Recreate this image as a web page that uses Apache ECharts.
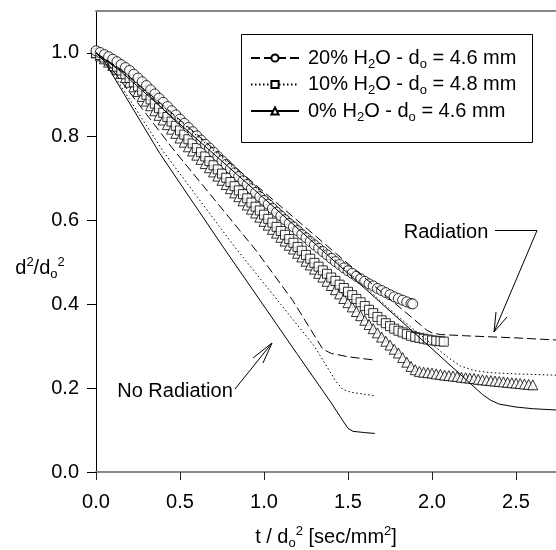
<!DOCTYPE html>
<html><head><meta charset="utf-8">
<script src="https://cdn.jsdelivr.net/npm/echarts@6/dist/echarts.min.js"></script>
<style>html,body{margin:0;padding:0;background:#fff}#c{width:556px;height:550px}</style>
</head><body><div id="c"></div>
<script>
// ---- data (t / do^2 [sec/mm^2], d^2/do^2) ----
const xTicks = [0, 0.5, 1.0, 1.5, 2.0, 2.5];
const yTicks = [0, 0.2, 0.4, 0.6, 0.8, 1.0];
const seriesNames = ['20% H2O - do = 4.6 mm', '10% H2O - do = 4.8 mm', '0% H2O - do = 4.6 mm'];
const legendLabels = ['20% H{sub|2}O - d{sub|o} = 4.6 mm', '10% H{sub|2}O - d{sub|o} = 4.8 mm', '0% H{sub|2}O - d{sub|o} = 4.6 mm'];

// experimental points: 20% H2O (circles)
const circ20 = [[0,1.005],[0.025,1.001],[0.05,0.996],[0.075,0.991],[0.1,0.985],[0.125,0.979],[0.15,0.972],[0.175,0.965],[0.2,0.958],[0.225,0.949],[0.25,0.940],[0.275,0.931],[0.3,0.922],[0.325,0.912],[0.35,0.902],[0.375,0.892],[0.4,0.882],[0.425,0.872],[0.45,0.862],[0.475,0.852],[0.5,0.842],[0.525,0.832],[0.55,0.822],[0.575,0.812],[0.6,0.802],[0.625,0.792],[0.65,0.782],[0.675,0.773],[0.7,0.763],[0.725,0.753],[0.75,0.743],[0.775,0.734],[0.8,0.724],[0.825,0.714],[0.85,0.705],[0.875,0.695],[0.9,0.686],[0.925,0.676],[0.95,0.667],[0.975,0.657],[1.0,0.648],[1.025,0.639],[1.05,0.629],[1.075,0.620],[1.1,0.611],[1.125,0.602],[1.15,0.593],[1.175,0.585],[1.2,0.576],[1.225,0.567],[1.25,0.559],[1.275,0.550],[1.3,0.542],[1.325,0.534],[1.35,0.526],[1.375,0.518],[1.4,0.510],[1.425,0.502],[1.45,0.495],[1.475,0.487],[1.5,0.480],[1.525,0.474],[1.55,0.467],[1.575,0.461],[1.6,0.455],[1.625,0.449],[1.65,0.444],[1.675,0.438],[1.7,0.433],[1.725,0.428],[1.75,0.423],[1.775,0.418],[1.8,0.414],[1.825,0.410],[1.85,0.406],[1.875,0.402],[1.885,0.401]];
// 10% H2O (squares)
const sq10 = [[0,1.000],[0.025,0.995],[0.05,0.989],[0.075,0.982],[0.1,0.975],[0.125,0.967],[0.15,0.958],[0.175,0.949],[0.2,0.940],[0.225,0.930],[0.25,0.920],[0.275,0.910],[0.3,0.900],[0.325,0.889],[0.35,0.879],[0.375,0.868],[0.4,0.857],[0.425,0.847],[0.45,0.836],[0.475,0.826],[0.5,0.815],[0.525,0.805],[0.55,0.794],[0.575,0.784],[0.6,0.773],[0.625,0.763],[0.65,0.753],[0.675,0.742],[0.7,0.732],[0.725,0.722],[0.75,0.712],[0.775,0.702],[0.8,0.692],[0.825,0.682],[0.85,0.672],[0.875,0.663],[0.9,0.653],[0.925,0.643],[0.95,0.633],[0.975,0.624],[1.0,0.614],[1.025,0.604],[1.05,0.595],[1.075,0.585],[1.1,0.575],[1.125,0.566],[1.15,0.556],[1.175,0.547],[1.2,0.537],[1.225,0.528],[1.25,0.518],[1.275,0.509],[1.3,0.499],[1.325,0.490],[1.35,0.481],[1.375,0.473],[1.4,0.464],[1.425,0.456],[1.45,0.447],[1.475,0.439],[1.5,0.430],[1.525,0.422],[1.55,0.413],[1.575,0.405],[1.6,0.396],[1.625,0.387],[1.65,0.379],[1.675,0.370],[1.7,0.362],[1.725,0.355],[1.75,0.348],[1.775,0.342],[1.8,0.337],[1.825,0.333],[1.85,0.329],[1.875,0.325],[1.9,0.322],[1.925,0.320],[1.95,0.318],[1.975,0.316],[2.0,0.314],[2.025,0.313],[2.05,0.312],[2.07,0.311]];
// 0% H2O (triangles)
const tri0 = [[0,1.000],[0.025,0.993],[0.05,0.986],[0.075,0.978],[0.1,0.970],[0.125,0.961],[0.15,0.951],[0.175,0.941],[0.2,0.930],[0.225,0.919],[0.25,0.908],[0.275,0.896],[0.3,0.885],[0.325,0.874],[0.35,0.862],[0.375,0.851],[0.4,0.840],[0.425,0.829],[0.45,0.818],[0.475,0.808],[0.5,0.797],[0.525,0.787],[0.55,0.776],[0.575,0.766],[0.6,0.756],[0.625,0.746],[0.65,0.736],[0.675,0.726],[0.7,0.716],[0.725,0.706],[0.75,0.696],[0.775,0.686],[0.8,0.676],[0.825,0.666],[0.85,0.657],[0.875,0.647],[0.9,0.637],[0.925,0.627],[0.95,0.618],[0.975,0.608],[1.0,0.598],[1.025,0.589],[1.05,0.579],[1.075,0.570],[1.1,0.560],[1.125,0.551],[1.15,0.541],[1.175,0.532],[1.2,0.522],[1.225,0.513],[1.25,0.503],[1.275,0.494],[1.3,0.484],[1.325,0.474],[1.35,0.465],[1.375,0.455],[1.4,0.445],[1.425,0.435],[1.45,0.425],[1.475,0.414],[1.5,0.404],[1.525,0.394],[1.55,0.383],[1.575,0.373],[1.6,0.362],[1.625,0.352],[1.65,0.342],[1.675,0.332],[1.7,0.322],[1.725,0.312],[1.75,0.303],[1.775,0.293],[1.8,0.284],[1.825,0.273],[1.85,0.262],[1.875,0.252],[1.9,0.244],[1.925,0.240],[1.95,0.238],[1.975,0.237],[2.0,0.236],[2.025,0.234],[2.05,0.233],[2.075,0.231],[2.1,0.230],[2.125,0.229],[2.15,0.228],[2.175,0.226],[2.2,0.225],[2.225,0.224],[2.25,0.223],[2.275,0.221],[2.3,0.220],[2.325,0.219],[2.35,0.218],[2.375,0.217],[2.4,0.216],[2.425,0.215],[2.45,0.214],[2.475,0.213],[2.5,0.212],[2.525,0.211],[2.55,0.210],[2.575,0.209],[2.6,0.208]];

// model curves with radiation
const rad20 = [[0,1.0],[0.15,0.96],[0.5,0.84],[1.0,0.668],[1.5,0.497],[1.97,0.338],[2.0,0.332],[2.05,0.328],[2.2,0.325],[2.5,0.32],[2.738,0.315]];
const rad10 = [[0,1.0],[0.15,0.958],[0.5,0.838],[1.0,0.662],[1.5,0.478],[1.8,0.37],[2.1,0.272],[2.17,0.253],[2.25,0.242],[2.35,0.237],[2.5,0.234],[2.738,0.231]];
const rad0  = [[0,1.0],[0.15,0.955],[0.5,0.83],[1.0,0.653],[1.5,0.474],[2.0,0.294],[2.3,0.185],[2.35,0.171],[2.4,0.162],[2.5,0.155],[2.6,0.151],[2.738,0.148]];
// model curves without radiation
const noRad20 = [[0,1.0],[0.05,0.985],[0.45,0.775],[0.95,0.53],[1.17,0.41],[1.35,0.293],[1.4,0.283],[1.5,0.275],[1.66,0.267]];
const noRad10 = [[0,1.0],[0.05,0.982],[0.4,0.765],[0.82,0.54],[1.1,0.4],[1.3,0.3],[1.43,0.215],[1.47,0.197],[1.52,0.19],[1.66,0.182]];
const noRad0  = [[0,1.0],[0.05,0.98],[0.38,0.76],[0.76,0.535],[1.2,0.28],[1.4,0.165],[1.47,0.122],[1.5,0.104],[1.53,0.097],[1.6,0.094],[1.66,0.092]];

// ---- chart ----
const FONT = "'Liberation Sans', Arial, sans-serif";
const rich = {
  sub: {fontSize: 13, fontFamily: FONT, color: '#000', padding: [12, 0, 0, 0]},
  sup: {fontSize: 13, fontFamily: FONT, color: '#000', padding: [0, 0, 12, 0]}
};
const DASH = [9, 4], DOT = [1.5, 2.5];
const styles = [
  {symbol: 'circle', size: 10, type: DASH},
  {symbol: 'rect', size: 9, type: DOT},
  {symbol: 'triangle', size: 10, type: 'solid'}
];
const points = [circ20, sq10, tri0];
const radLines = [rad20, rad10, rad0];
const noRadLines = [noRad20, noRad10, noRad0];

const series = [];
seriesNames.forEach((n, i) => series.push({
  name: n, type: 'line', data: [], symbol: styles[i].symbol, symbolSize: 8,
  itemStyle: {color: '#fff', borderColor: '#000', borderWidth: 1},
  lineStyle: {color: '#000', width: 1, type: styles[i].type}
}));
[2, 1, 0].forEach(i => series.push({
  name: seriesNames[i] + ' data', type: 'scatter', data: points[i],
  symbol: styles[i].symbol, symbolSize: styles[i].size, z: 2 + (2 - i) * 0.1,
  itemStyle: {color: '#fff', borderColor: '#000', borderWidth: 1}
}));
for (let i = 0; i < 3; i++) {
  [radLines[i], noRadLines[i]].forEach((d, k) => series.push({
    name: seriesNames[i] + (k ? ' noRad' : ' rad'), type: 'line', data: d,
    symbol: 'none', z: 4, silent: true,
    lineStyle: {color: '#000', width: 1, type: styles[i].type}
  }));
}

const chart = echarts.init(document.getElementById('c'));
chart.setOption({
  animation: false,
  backgroundColor: '#fff',
  grid: {left: 96, right: 0, top: 11, bottom: 78, containLabel: false, outerBoundsMode: 'none'},
  legend: {
    data: seriesNames, orient: 'vertical', left: 250, top: 48, padding: 0,
    itemWidth: 48, itemHeight: 9, itemGap: 4, selectedMode: false,
    formatter: n => legendLabels[seriesNames.indexOf(n)],
    textStyle: {fontSize: 20, fontFamily: FONT, color: '#000', padding: [0, 0, 0, 4], rich: rich}
  },
  xAxis: [{
    type: 'value', min: 0, max: 2.738, interval: 0.5,
    name: 't / d{sub|o}{sup|2} [sec/mm{sup|2}]', nameLocation: 'middle', nameGap: 53,
    nameTextStyle: {fontSize: 20, fontFamily: FONT, color: '#000', rich: rich},
    axisLine: {onZero: false, lineStyle: {color: '#888', width: 2}},
    axisTick: {length: 8, lineStyle: {color: '#222'}, customValues: xTicks},
    axisLabel: {fontSize: 20, fontFamily: FONT, color: '#000', margin: 20,
      customValues: xTicks, formatter: v => v.toFixed(1)},
    splitLine: {show: false}
  }, {
    type: 'value', position: 'top', min: 0, max: 2.738,
    axisLine: {show: true, onZero: false, lineStyle: {color: '#888', width: 2}},
    axisTick: {show: false}, axisLabel: {show: false}, splitLine: {show: false}
  }],
  yAxis: {
    type: 'value', min: 0, max: 1.1, interval: 0.2,
    axisLine: {show: true, onZero: false, lineStyle: {color: '#000', width: 1}},
    axisTick: {length: 9, lineStyle: {color: '#000'}, customValues: yTicks},
    axisLabel: {fontSize: 20, fontFamily: FONT, color: '#000', margin: 17,
      customValues: yTicks, formatter: v => v.toFixed(1)},
    splitLine: {show: false}
  },
  graphic: [
    {type: 'text', style: {x: 40, y: 268, text: 'd{sup|2}/d{sub|o}{sup|2}', fontSize: 20, fontFamily: FONT, fill: '#000', align: 'center', verticalAlign: 'middle', rich: rich}, z: 10},
    {type: 'rect', shape: {x: 241.5, y: 34.5, width: 291, height: 108}, style: {fill: null, stroke: '#000', lineWidth: 1}, z: 10},
    {type: 'text', style: {x: 446, y: 232, text: 'Radiation', fontSize: 20, fontFamily: FONT, fill: '#000', align: 'center', verticalAlign: 'middle'}, z: 10},
    {type: 'polyline', shape: {points: [[495, 230.5], [537, 230.5], [494, 332]]}, style: {stroke: '#000', lineWidth: 1, fill: null}, z: 10},
    {type: 'polyline', shape: {points: [[507, 317], [494, 332], [496, 312]]}, style: {stroke: '#000', lineWidth: 1, fill: null}, z: 10},
    {type: 'text', style: {x: 175, y: 391, text: 'No Radiation', fontSize: 20, fontFamily: FONT, fill: '#000', align: 'center', verticalAlign: 'middle'}, z: 10},
    {type: 'polyline', shape: {points: [[235, 389], [272, 343]]}, style: {stroke: '#000', lineWidth: 1, fill: null}, z: 10},
    {type: 'polyline', shape: {points: [[253, 358], [272, 343], [263, 363]]}, style: {stroke: '#000', lineWidth: 1, fill: null}, z: 10}
  ],
  series: series
});
</script>
</body></html>
